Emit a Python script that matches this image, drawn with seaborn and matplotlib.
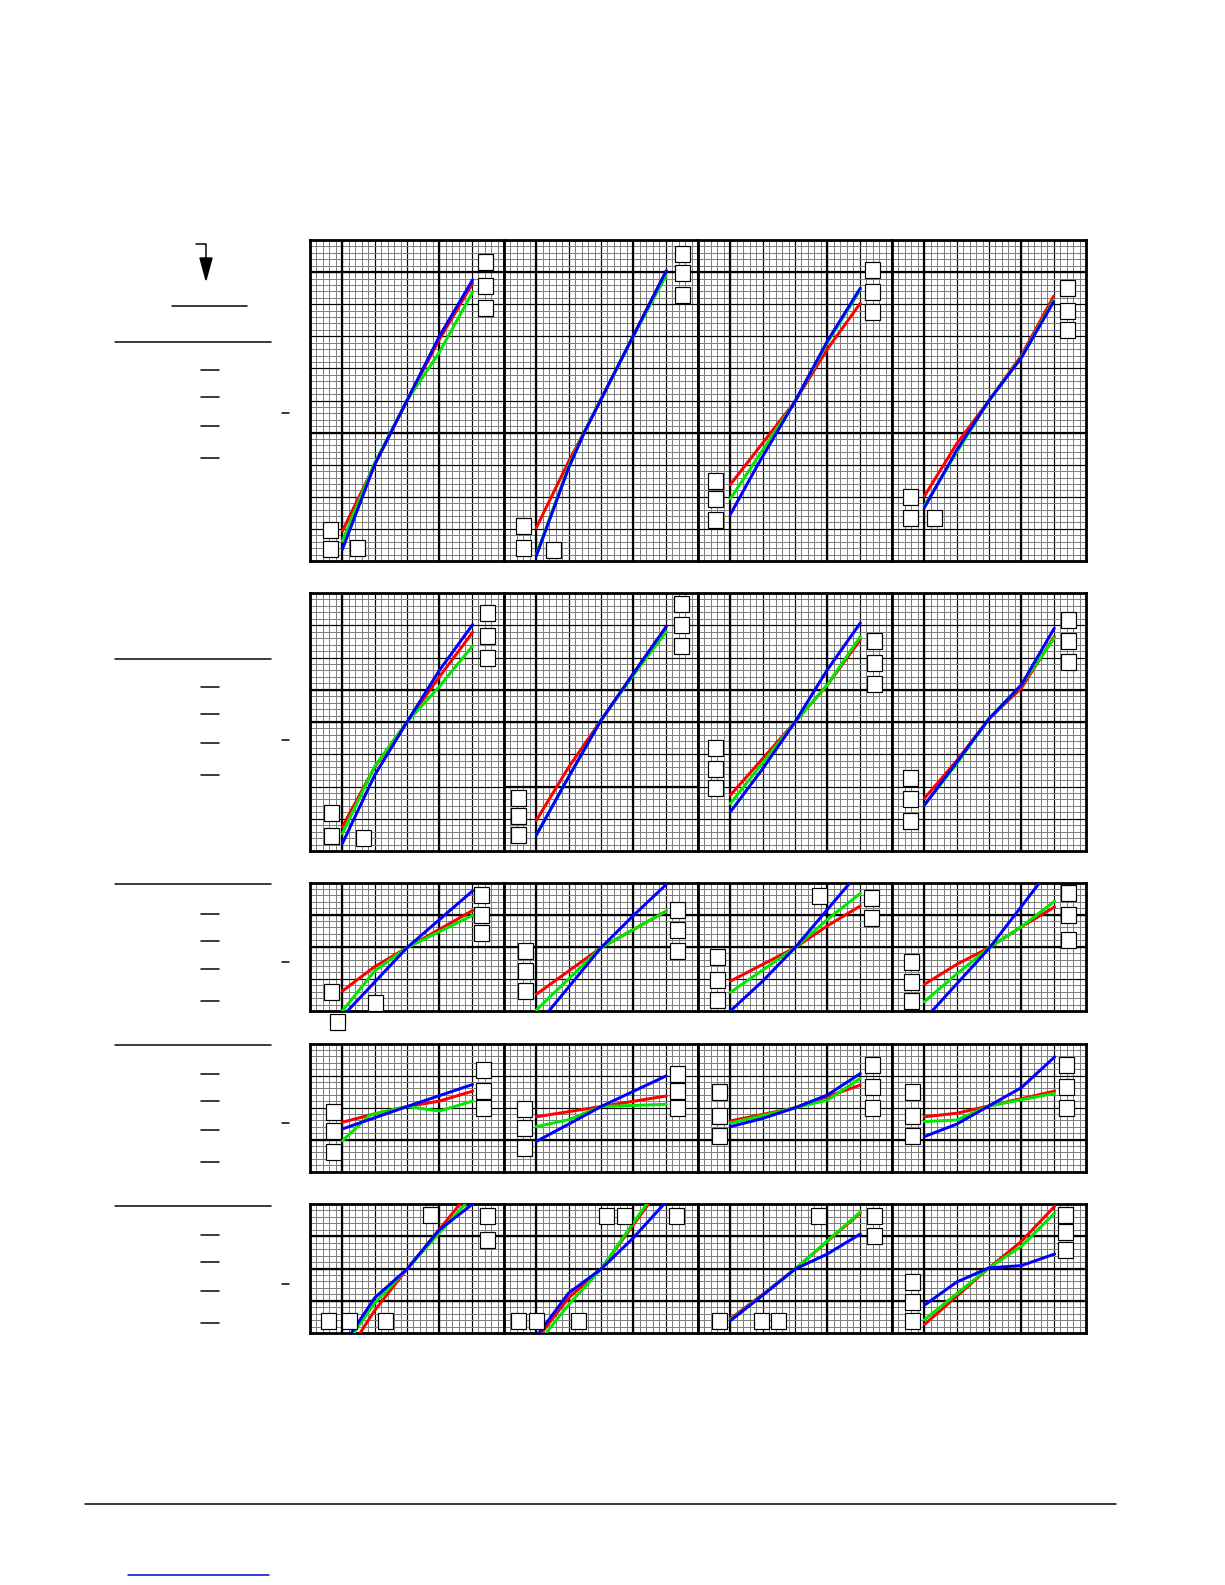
import numpy as np
import pandas as pd
import matplotlib
matplotlib.use('Agg')
import matplotlib.pyplot as plt
from matplotlib.patches import Rectangle, Polygon
import seaborn as sns

##########
#  DATA  #
##########

# grid cells per row (x always 0..6) and the heavy grid lines
row_cells = [10, 8, 4, 4, 4]
row_thick_y = [[4, 9], [4, 5], [2, 3], [1], [1, 2, 3]]
thick_x = [1, 4]
series_names = ['red', 'green', 'blue']

# curves, one list of (x, y) per panel, four panels per row
red_r1 = [
    [(1, 0.93), (2, 3.0), (3, 5.0), (4, 6.9), (5.03, 8.65)],
    [(1, 1.04), (2, 3.1), (2.5, 4.05), (5.02, 9.04)],
    [(1, 2.38), (3, 4.97), (4, 6.6), (5.02, 8.03)],
    [(1, 2.02), (2, 3.65), (3, 5.0), (4, 6.4), (5, 8.25)],
]
green_r1 = [
    [(1, 0.62), (2, 3.05), (3, 5.0), (4, 6.5), (5.03, 8.38)],
    [(1, 0.2), (2, 2.95), (2.5, 4.05), (4, 7.0), (5.02, 8.9)],
    [(1, 1.94), (3, 4.97), (4, 6.8), (5.02, 8.45)],
    [(1, 1.72), (2, 3.38), (3, 5.0), (4, 6.35), (5, 8.13)],
]
blue_r1 = [
    [(1, 0.36), (2, 3.0), (3, 5.0), (4, 7.0), (5.03, 8.76)],
    [(1, 0.16), (2, 2.9), (2.5, 4.04), (5.02, 9.04)],
    [(1, 1.45), (1.85, 3.0), (3, 4.97), (4, 6.85), (5.02, 8.5)],
    [(1, 1.66), (2, 3.45), (3, 5.0), (4, 6.33), (5, 8.08)],
]

red_r2 = [
    [(1, 0.75), (2, 2.6), (3, 4.0), (4, 5.4), (5.03, 6.78)],
    [(1, 0.95), (2, 2.6), (3, 4.05), (4, 5.5), (5.02, 6.96)],
    [(1, 1.73), (3, 4.0), (4, 5.15), (5.02, 6.55)],
    [(1, 1.63), (2, 2.8), (3, 4.1), (4, 5.05), (5.02, 6.65)],
]
green_r2 = [
    [(1, 0.54), (2, 2.62), (3, 4.0), (4, 5.1), (5.03, 6.36)],
    [(1, 0.5), (2, 2.3), (3, 4.05), (4, 5.45), (5.02, 6.8)],
    [(1, 1.47), (3, 4.0), (4, 5.15), (5.02, 6.65)],
    [(1, 1.42), (2, 2.7), (3, 4.1), (4, 5.15), (5.02, 6.6)],
]
blue_r2 = [
    [(1, 0.23), (2, 2.35), (3, 4.0), (4, 5.6), (5.03, 7.02)],
    [(1, 0.49), (2, 2.3), (3, 4.05), (4, 5.5), (5.02, 6.96)],
    [(1, 1.21), (2, 2.55), (3, 4.0), (4, 5.62), (5.02, 7.07)],
    [(1, 1.42), (2, 2.75), (3, 4.1), (4, 5.15), (5.02, 6.91)],
]

red_r3 = [
    [(1, 0.62), (2, 1.38), (3, 1.97), (5.03, 3.13)],
    [(1, 0.52), (3, 1.97), (5.02, 3.11)],
    [(1, 0.93), (3, 1.97), (4, 2.65), (5.02, 3.27)],
    [(1, 0.83), (2, 1.45), (3, 1.97), (4, 2.62), (5.03, 3.24)],
]
green_r3 = [
    [(1, 0.0), (2, 1.25), (3, 1.97), (5.03, 2.98)],
    [(1, 0.03), (3, 1.97), (5.02, 3.11)],
    [(1, 0.58), (3, 1.97), (4, 2.85), (5.02, 3.66)],
    [(1, 0.29), (2, 1.15), (3, 1.97), (4, 2.62), (5.03, 3.42)],
]
blue_r3 = [
    [(1.16, 0.0), (3, 1.97), (5.03, 3.74)],
    [(1.39, 0.0), (3, 1.97), (4, 2.97), (5.02, 3.94)],
    [(1, 0.0), (2, 0.93), (3, 1.97), (4.71, 4.0)],
    [(1.24, 0.0), (3.02, 1.97), (4.57, 4.0)],
]

red_r4 = [
    [(1, 1.54), (2, 1.8), (3, 2.03), (4, 2.2), (5.03, 2.51)],
    [(1, 1.71), (3, 2.03), (5.02, 2.36)],
    [(1, 1.58), (3, 1.99), (4, 2.34), (5.02, 2.7)],
    [(1, 1.71), (2, 1.82), (3, 2.05), (5.03, 2.51)],
]
green_r4 = [
    [(1, 0.96), (1.86, 1.77), (3, 2.03), (4, 1.89), (5.03, 2.2)],
    [(1, 1.4), (2, 1.62), (3, 2.03), (5.02, 2.1)],
    [(1, 1.51), (3, 1.99), (4, 2.23), (5.02, 2.91)],
    [(1, 1.56), (2, 1.61), (3, 2.05), (5.03, 2.44)],
]
blue_r4 = [
    [(1, 1.33), (3, 2.03), (5.03, 2.72)],
    [(1, 0.94), (2, 1.48), (3, 2.03), (5.02, 2.99)],
    [(1, 1.4), (2, 1.66), (3, 1.99), (4, 2.39), (5.02, 3.06)],
    [(1, 1.09), (2, 1.48), (3, 2.05), (4, 2.62), (5.03, 3.58)],
]

red_r5 = [
    [(1.55, 0.0), (2, 0.7), (3, 1.98), (4.64, 4.0)],
    [(1.16, 0.0), (2, 1.09), (3, 1.98), (4.47, 4.0)],
    [(1, 0.44), (2, 1.2), (3, 1.98), (5.02, 3.72)],
    [(1, 0.26), (3, 2.02), (4, 2.84), (5.03, 3.93)],
]
green_r5 = [
    [(1.35, 0.0), (2, 0.93), (3, 1.98), (4.8, 4.0)],
    [(1.3, 0.0), (2, 0.88), (3, 1.98), (4.41, 4.0)],
    [(1, 0.4), (2, 1.18), (3, 1.98), (5.02, 3.75)],
    [(1, 0.41), (3, 2.02), (4, 2.69), (5.03, 3.72)],
]
blue_r5 = [
    [(1.28, 0.0), (2, 1.09), (3, 1.98), (4, 3.2), (5.03, 4.0)],
    [(1.08, 0.0), (2, 1.24), (3, 1.98), (4, 2.95), (4.95, 4.0)],
    [(1, 0.38), (2, 1.17), (3, 1.98), (4, 2.45), (5.02, 3.07)],
    [(1, 0.86), (2, 1.58), (3, 2.02), (4, 2.09), (5.03, 2.45)],
]

# anchors of the (empty) label frames, per panel
boxes_r1 = [
    [(0.62, 0.97), (0.62, 0.38), (1.47, 0.39), (5.42, 9.31), (5.42, 8.56), (5.42, 7.88)],
    [(0.60, 1.09), (0.60, 0.39), (1.53, 0.33), (5.51, 9.55), (5.51, 8.98), (5.51, 8.30)],
    [(0.53, 2.49), (0.53, 1.92), (0.53, 1.27), (5.39, 9.06), (5.39, 8.39), (5.39, 7.75)],
    [(0.56, 2.0), (0.56, 1.35), (1.30, 1.35), (5.42, 8.5), (5.42, 7.78), (5.42, 7.19)],
]
boxes_r2 = [
    [(0.67, 1.18), (0.67, 0.46), (1.64, 0.41), (5.5, 7.38), (5.5, 6.67), (5.5, 5.99)],
    [(0.46, 1.63), (0.46, 1.07), (0.46, 0.51), (5.48, 7.66), (5.48, 7.0), (5.48, 6.35)],
    [(0.54, 3.18), (0.54, 2.55), (0.54, 1.94), (5.45, 6.5), (5.45, 5.82), (5.45, 5.17)],
    [(0.56, 2.25), (0.56, 1.6), (0.56, 0.93), (5.45, 7.17), (5.45, 6.5), (5.45, 5.85)],
]
boxes_r3 = [
    [(0.66, 0.58), (2.04, 0.24), (0.86, -0.34), (5.3, 3.6), (5.3, 3.0), (5.3, 2.42)],
    [(0.66, 1.88), (0.66, 1.24), (0.66, 0.61), (5.37, 3.13), (5.37, 2.51), (5.37, 1.88)],
    [(0.6, 1.67), (0.6, 0.98), (0.6, 0.34), (3.75, 3.59), (5.37, 3.53), (5.37, 2.88)],
    [(0.6, 1.51), (0.6, 0.91), (0.6, 0.31), (5.45, 3.66), (5.45, 3.0), (5.45, 2.21)],
]
boxes_r4 = [
    [(0.73, 1.85), (0.73, 1.27), (0.73, 0.62), (5.36, 3.17), (5.36, 2.52), (5.36, 1.97)],
    [(0.62, 1.94), (0.62, 1.35), (0.62, 0.73), (5.37, 3.05), (5.37, 2.52), (5.37, 1.97)],
    [(0.65, 2.47), (0.65, 1.75), (0.65, 1.11), (5.39, 3.32), (5.39, 2.65), (5.39, 1.97)],
    [(0.62, 2.47), (0.62, 1.75), (0.62, 1.11), (5.39, 3.32), (5.39, 2.65), (5.39, 1.97)],
]
boxes_r5 = [
    [(0.56, 0.37), (1.22, 0.37), (2.35, 0.37), (3.74, 3.65), (5.5, 3.62), (5.5, 2.87)],
    [(0.46, 0.38), (0.99, 0.38), (2.29, 0.38), (3.16, 3.64), (3.72, 3.64), (5.34, 3.64)],
    [(0.66, 0.38), (1.97, 0.38), (2.49, 0.38), (3.73, 3.64), (5.46, 3.62), (5.46, 3.02)],
    [(0.62, 1.57), (0.62, 0.95), (0.62, 0.36), (5.37, 3.67), (5.37, 3.12), (5.37, 2.56)],
]

rows = [
    (red_r1, green_r1, blue_r1, boxes_r1),
    (red_r2, green_r2, blue_r2, boxes_r2),
    (red_r3, green_r3, blue_r3, boxes_r3),
    (red_r4, green_r4, blue_r4, boxes_r4),
    (red_r5, green_r5, blue_r5, boxes_r5),
]

##########
# LAYOUT #
##########

W, H = 1225, 1585
panel_left, panel_w = 310, 194
row_top = [240, 593, 882.5, 1043.5, 1204]
row_bottom = [561, 851, 1011, 1171.5, 1333]
box_w_px, box_h_px = 15, 16
palette = {'red': '#ff0000', 'green': '#00e800', 'blue': '#0000ff'}
PX = 0.72  # one pixel in points at dpi 100

# long dataframe for seaborn
records = []
for r, (red, green, blue, _) in enumerate(rows):
    for name, curves in zip(series_names, (red, green, blue)):
        for p, pts in enumerate(curves):
            for k, (x, y) in enumerate(pts):
                records.append(dict(row=r, panel=p, series=name, k=k, x=x, y=y))
df = pd.DataFrame(records)

sns.set_theme(style='white')
fig = plt.figure(figsize=(W / 100, H / 100), dpi=100)

# page decorations (the left-hand legend rules, footer)
page = fig.add_axes([0, 0, 1, 1])
page.set_xlim(0, W)
page.set_ylim(H, 0)
page.axis('off')

page.plot([196, 206, 206], [244, 244, 262], color='black', lw=1.5 * PX)
page.add_patch(Polygon([(200, 258), (212, 258), (206, 280)], closed=True,
                       color='black'))
page.plot([172, 247], [306, 306], color='black', lw=1.5 * PX)

left_long = [341.5, 658.5, 884.2, 1044.8, 1205.9]
left_dash = [[370, 397, 426, 458], [687, 714, 743, 775], [913.7, 940.5, 969, 1001.3],
             [1074.3, 1101.2, 1129.8, 1161.9], [1235, 1262.2, 1290.8, 1323]]
left_small = [413, 740, 962, 1123, 1283.8]
for yl, dashes, ys in zip(left_long, left_dash, left_small):
    page.plot([115, 271], [yl, yl], color='black', lw=1.5 * PX)
    for yd in dashes:
        page.plot([201, 219], [yd, yd], color='black', lw=1.5 * PX)
    page.plot([282, 289], [ys, ys], color='black', lw=1.5 * PX)

page.plot([84.5, 1115.8], [1504, 1504], color='black', lw=1.5 * PX)
page.plot([128, 269], [1575, 1575], color='#0000cc', lw=1.5 * PX)

# chart panels
for r, (_, _, _, boxes) in enumerate(rows):
    n = row_cells[r]
    top, bottom = row_top[r], row_bottom[r]
    cell_h = (bottom - top) / n
    cell_w = panel_w / 6
    for p in range(4):
        x0 = panel_left + p * panel_w
        ax = fig.add_axes([x0 / W, 1 - bottom / H, panel_w / W, (bottom - top) / H])

        sub = df[(df.row == r) & (df.panel == p)].sort_values(['series', 'k'])
        sns.lineplot(data=sub, x='x', y='y', hue='series', hue_order=series_names,
                     palette=palette, sort=False, estimator=None, legend=False,
                     lw=3.0 * PX, ax=ax, zorder=3)

        ax.set_xlim(0, 6)
        ax.set_ylim(0, n)
        ax.set_xticks(np.arange(0, 7))
        ax.set_yticks(np.arange(0, n + 1))
        ax.set_xticks(np.arange(0, 6.001, 0.2), minor=True)
        ax.set_yticks(np.arange(0, n + 0.001, 0.2), minor=True)
        ax.set_axisbelow(True)
        ax.grid(which='minor', color='#808080', lw=1.0 * PX)
        ax.grid(which='major', color='black', lw=1.2 * PX)
        ax.tick_params(which='both', length=0, labelbottom=False, labelleft=False)
        ax.set_xlabel('')
        ax.set_ylabel('')

        for xv in thick_x:
            ax.axvline(xv, color='black', lw=2.2 * PX, zorder=1.5)
        for yv in row_thick_y[r]:
            ax.axhline(yv, color='black', lw=2.2 * PX, zorder=1.5)
        if r == 1 and p == 1:
            ax.axhline(2, color='black', lw=2.2 * PX, zorder=1.5)

        for s in ax.spines.values():
            s.set_linewidth(2.8 * PX)
            s.set_color('black')
            s.set_visible(True)

        bw, bh = box_w_px / cell_w, box_h_px / cell_h
        for bx, by in boxes[p]:
            ax.add_patch(Rectangle((bx - bw / 2, by - bh / 2), bw, bh,
                                   facecolor='white', edgecolor='black',
                                   lw=1.2 * PX, zorder=4, clip_on=False))

fig.savefig('out.png', dpi=100, facecolor='white')
